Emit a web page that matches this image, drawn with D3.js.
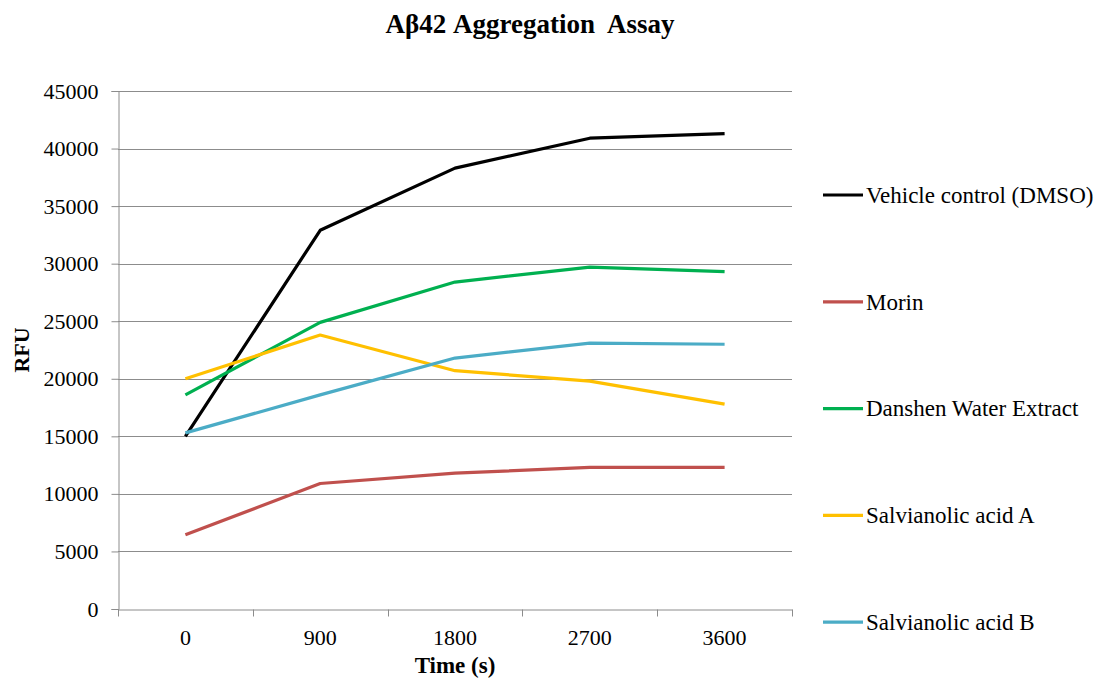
<!DOCTYPE html>
<html>
<head>
<meta charset="utf-8">
<script src="https://cdn.jsdelivr.net/npm/d3@7"></script>
<style>
  body { margin: 0; background: #fff; }
  svg { display: block; font-family: "Liberation Serif", "Times New Roman", serif; }
</style>
</head>
<body>
<svg id="svg" width="1102" height="683"></svg>
<script>
// chart data
let timePoints = ["0", "900", "1800", "2700", "3600"];
let seriesNames = ["Vehicle control (DMSO)", "Morin", "Danshen Water Extract", "Salvianolic acid A", "Salvianolic acid B"];
let seriesColors = ["#000000", "#C0504D", "#00B050", "#FFC000", "#4BACC6"];
let vehicleValues = [15000, 32900, 38300, 40900, 41300];
let morinValues = [6450, 10900, 11800, 12300, 12300];
let danshenValues = [18600, 24900, 28400, 29700, 29300];
let salvAValues = [20000, 23800, 20700, 19800, 17800];
let salvBValues = [15300, 18600, 21800, 23100, 23000];
let yTicks = [0, 5000, 10000, 15000, 20000, 25000, 30000, 35000, 40000, 45000];

let allValues = [vehicleValues, morinValues, danshenValues, salvAValues, salvBValues];

let svg = d3.select("#svg");
const margin = { top: 91, right: 310, bottom: 74, left: 118 };
const width = 1102;
const height = 683;
let chartWidth = width - margin.left - margin.right;
let chartHeight = height - margin.top - margin.bottom;

let chart = svg.append("g")
    .attr("transform", "translate(" + margin.left + "," + margin.top + ")");

let xScale = d3.scaleBand()
    .domain(timePoints)
    .range([0, chartWidth]);

let yScale = d3.scaleLinear()
    .domain([0, 45000])
    .range([chartHeight, 0]);

// horizontal gridlines
chart.append("g")
    .selectAll("line")
    .data(yTicks.filter(d => d > 0))
    .join("line")
    .attr("x1", 0)
    .attr("x2", chartWidth)
    .attr("y1", d => Math.round(yScale(d)) + 0.5)
    .attr("y2", d => Math.round(yScale(d)) + 0.5)
    .attr("stroke", "#8c8c8c")
    .attr("stroke-width", 1);

// y axis
let yAxis = chart.append("g")
    .attr("class", "y-axis")
    .attr("transform", "translate(0.5,0)")
    .call(d3.axisLeft(yScale).tickValues(yTicks).tickSize(7).tickPadding(13).tickFormat(d3.format("d")));
yAxis.selectAll("path, line").attr("stroke", "#8c8c8c");
yAxis.selectAll("text").style("font-size", "22px").attr("fill", "#000").style("font-family", "Liberation Serif");

// x axis: labels centred in bands, ticks at band edges
let xAxis = chart.append("g")
    .attr("class", "x-axis")
    .attr("transform", `translate(0,${Math.round(chartHeight) + 0.5})`)
    .call(d3.axisBottom(xScale).tickSize(0).tickPadding(20).tickSizeOuter(0));
xAxis.select("path").attr("stroke", "#8c8c8c");
xAxis.selectAll("text").style("font-size", "22px").attr("fill", "#000").style("font-family", "Liberation Serif");

let edges = timePoints.map(d => xScale(d)).concat([xScale.range()[1]]);
xAxis.append("g")
    .selectAll("line")
    .data(edges)
    .join("line")
    .attr("x1", d => Math.round(d) + 0.5)
    .attr("x2", d => Math.round(d) + 0.5)
    .attr("y1", 0)
    .attr("y2", 7)
    .attr("stroke", "#8c8c8c");

// lines
let line = d3.line()
    .x((d, i) => xScale(timePoints[i]) + xScale.bandwidth() / 2)
    .y(d => yScale(d));

chart.append("g")
    .selectAll("path")
    .data(allValues)
    .join("path")
    .attr("d", d => line(d))
    .attr("fill", "none")
    .attr("stroke", (d, i) => seriesColors[i])
    .attr("stroke-width", 3.2)
    .attr("stroke-linejoin", "round");

// legend
let legend = svg.append("g")
    .attr("transform", "translate(823,195)");

let items = legend.selectAll("g")
    .data(seriesNames)
    .join("g")
    .attr("transform", (d, i) => `translate(0,${i * 106.8})`);

items.append("line")
    .attr("x1", 0)
    .attr("x2", 40)
    .attr("stroke", (d, i) => seriesColors[i])
    .attr("stroke-width", 3.2);

items.append("text")
    .attr("x", 43)
    .attr("dy", "0.34em")
    .style("font-size", "23px")
    .text(d => d);

// titles
svg.append("text")
    .attr("x", 530)
    .attr("y", 33)
    .attr("text-anchor", "middle")
    .style("font-size", "27px")
    .style("font-weight", "bold")
    .attr("xml:space", "preserve")
    .text("Aβ42 Aggregation  Assay");

svg.append("text")
    .attr("x", 455)
    .attr("y", 673)
    .attr("text-anchor", "middle")
    .style("font-size", "23px")
    .style("font-weight", "bold")
    .text("Time (s)");

svg.append("text")
    .attr("transform", "translate(29,350) rotate(-90)")
    .attr("text-anchor", "middle")
    .style("font-size", "22px")
    .style("font-weight", "bold")
    .text("RFU");
</script>
</body>
</html>
